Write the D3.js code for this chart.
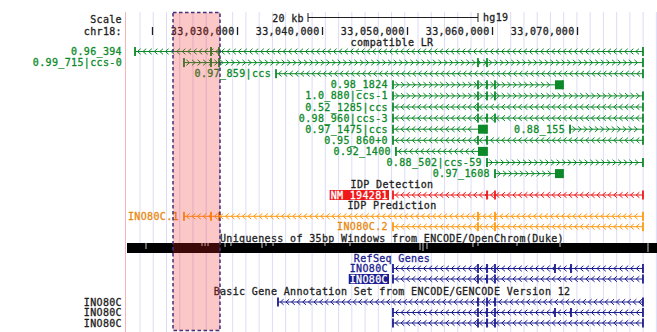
<!DOCTYPE html>
<html><head><meta charset="utf-8">
<script src="https://cdn.jsdelivr.net/npm/d3@7"></script>
<style>
body{margin:0;background:#fff}
svg{display:block}
text{font-family:"DejaVu Sans Mono",monospace;font-size:10px;letter-spacing:0.35px}
</style>
</head><body>
<svg id="c" width="657" height="332"></svg>
<script>
// ---------------- data ----------------
const viewRange = [33016940, 33079410];
const tickValues = [33020000, 33030000, 33040000, 33050000, 33060000, 33070000];
const tickLabels = ["", "33,030,000", "33,040,000", "33,050,000", "33,060,000", "33,070,000"];
const highlightRange = [33022470, 33028000];
const scaleBarStart = 33038350, scaleBarLen = 20000, scaleBarText = "20 kb", assembly = "hg19";
const chromName = "chr18:";

// compatible LR track
const lrNames  = ["0.96_394","0.99_715|ccs-0","0.97_859|ccs","0.98_1824","1.0_880|ccs-1","0.52_1285|ccs","0.98_960|ccs-3","0.97_1475|ccs","0.88_155","0.95_860+0","0.92_1400","0.88_502|ccs-59","0.97_1608"];
const lrRow    = [0,1,2,3,4,5,6,7,7,8,9,10,11];
const lrStrand = ["-","+","-","+","+","-","-","-","+","-","-","+","+"];
const lrStart  = [33018000,33023760,33034590,33048350,33048350,33048350,33048350,33048350,33069180,33048350,33048700,33059410,33060350];
const lrEnd    = [33077760,33077760,33077760,33068350,33077760,33077760,33077760,33059410,33077760,33077760,33059410,33077760,33068350];
const lrExons  = [[33026940,33027880],[33026940,33027880,33058350,33059410],[],[33058350,33059410,33060350],[33058350,33059410,33060350],[33058350],[33058350,33059410,33060350],[],[],[33058350,33059410],[],[],[]];
const lrBoxes  = [[],[],[],[[33067410,33068350]],[],[],[],[[33058350,33059410]],[],[],[[33058350,33059410]],[],[[33067410,33068350]]];
const lrMargin = [true,true,false,false,false,false,false,false,false,false,false,false,false];

// IDP detection
const detName = "NM_194281", detStart = 33048350, detEnd = 33077760, detExons = [33059410, 33060350];

// IDP prediction
const predNames = ["INO80C.1","INO80C.2"];
const predStart = [33023760, 33048350];
const predEnd   = [33077760, 33077760];
const predExons = [[33026940,33027880,33058350,33060350],[33058350,33060350]];

// Uniqueness track: dips (position, value 0..1)
const uniqPos = [33019290,33025880,33026240,33026590,33028590,33029290,33032940,33033410,33034240,33040350,33043290,33051530,33051880,33052350,33057760,33058350,33062940,33068000,33078350];
const uniqVal = [0.4,0.7,0.7,0.7,0.6,0.7,0.5,0.7,0.7,0.7,0.7,0.3,0.2,0.4,0.6,0.7,0.7,0.6,0.1];

// RefSeq
const refNames = ["INO80C","INO80C"];
const refStart = [33048350, 33048350];
const refEnd   = [33077760, 33077760];
const refExons = [[33058350,33059410,33060350,33067410,33069290],[33058350,33059410,33060350]];
const refSelected = [false, true];

// GENCODE
const gcNames = ["INO80C","INO80C","INO80C"];
const gcStart = [33034820, 33048350, 33048350];
const gcEnd   = [33077760, 33077760, 33077760];
const gcExons = [[33058350,33059410,33060350],[33058350,33059410,33060350,33067410,33069290],[33058350,33059410,33060350]];

const titles = ["compatible LR","IDP Detection","IDP Prediction","Uniqueness of 35bp Windows from ENCODE/OpenChrom(Duke)","RefSeq Genes","Basic Gene Annotation Set from ENCODE/GENCODE Version 12"];

// ---------------- drawing ----------------
const svg = d3.select("#c");
const x = d3.scaleLinear().domain(viewRange).range([126, 657]);
const GREEN = "#0c8a2a", RED = "#f01818", ORANGE = "#ff9a10", BLUE = "#1c1c90", DARK = "#1e1e1e";

// guide lines
svg.append("g").selectAll("line").data(d3.range(140, 657, 13.24)).join("line")
  .attr("x1", d => d).attr("x2", d => d).attr("y1", 12).attr("y2", 332)
  .attr("stroke", "#dcdcf8").attr("stroke-width", 1);
svg.append("line").attr("x1", 125.5).attr("x2", 125.5).attr("y1", 12).attr("y2", 332)
  .attr("stroke", "#f5b5b5").attr("stroke-width", 1);

function label(txt, xp, y, anchor, color) {
  return svg.append("text").attr("x", xp).attr("y", y).attr("dy", "0.35em")
    .attr("text-anchor", anchor).attr("fill", color)
    .attr("stroke", color).attr("stroke-width", 0.3).text(txt);
}

function drawTranscript(t) {
  const g = svg.append("g").attr("stroke", t.color).attr("fill", t.color);
  const x0 = x(t.start), x1 = x(t.end), y = t.y;
  g.append("line").attr("x1", x0).attr("x2", x1).attr("y1", y).attr("y2", y).attr("stroke-width", 1);
  const boxes = t.boxes || [];
  const chev = d3.range(x0 + 4, x1 - 2, 5.6).filter(c => !boxes.some(b => c > x(b[0]) - 3 && c < x(b[1]) + 3));
  const s = t.strand === "-" ? 1 : -1;
  g.append("path").attr("fill", "none").attr("stroke-width", 1)
    .attr("d", chev.map(c => `M${c + 1.6 * s},${y - 2.8}L${c - 1.6 * s},${y}L${c + 1.6 * s},${y + 2.8}`).join(""));
  const marks = [t.start, t.end].concat(t.exons || []);
  g.selectAll(null).data(marks).join("rect")
    .attr("x", d => x(d) - 0.9).attr("width", 1.8).attr("y", y - 4.5).attr("height", 9).attr("stroke", "none");
  g.selectAll(null).data(boxes).join("rect")
    .attr("x", d => x(d[0])).attr("width", d => x(d[1]) - x(d[0])).attr("y", y - 4.5).attr("height", 9).attr("stroke", "none");
}

// scale / ruler
label("Scale", 122, 19, "end", DARK);
label(scaleBarText, x(scaleBarStart) - 4, 18, "end", DARK);
const sb = svg.append("g").attr("stroke", DARK).attr("stroke-width", 1);
sb.append("line").attr("x1", x(scaleBarStart)).attr("x2", x(scaleBarStart + scaleBarLen)).attr("y1", 17.5).attr("y2", 17.5);
[scaleBarStart, scaleBarStart + scaleBarLen].forEach(p =>
  sb.append("line").attr("x1", x(p)).attr("x2", x(p)).attr("y1", 13).attr("y2", 22));
label(assembly, x(scaleBarStart + scaleBarLen) + 5, 17.5, "start", DARK);

label(chromName, 122, 31, "end", DARK);
const ax = d3.axisTop(x).tickValues(tickValues).tickSize(0).tickFormat((d, i) => tickLabels[i]);
const axg = svg.append("g").attr("transform", "translate(0,31)").call(ax);
axg.select(".domain").remove();
axg.selectAll(".tick text").attr("text-anchor", "end").attr("x", -3).attr("y", 0).attr("dy", "0.35em")
  .attr("fill", DARK).attr("stroke", DARK).attr("stroke-width", 0.3)
  .style("font-family", '"DejaVu Sans Mono",monospace').style("font-size", "10px");
axg.selectAll(".tick").append("line").attr("y1", -4).attr("y2", 4).attr("stroke", DARK).attr("stroke-width", 1.3);

const TX = 392;
// compatible LR
label(titles[0], TX, 42, "middle", DARK);
const rowY = i => 51.5 + 11.1 * i;
lrNames.forEach((n, i) => {
  const y = rowY(lrRow[i]);
  drawTranscript({ start: lrStart[i], end: lrEnd[i], strand: lrStrand[i], exons: lrExons[i], boxes: lrBoxes[i], y, color: GREEN });
  if (lrMargin[i]) label(n, 122, y, "end", GREEN);
  else label(n, x(lrStart[i]) - 5, y, "end", GREEN);
});

// IDP detection
label(titles[1], TX, 184, "middle", DARK);
drawTranscript({ start: detStart, end: detEnd, strand: "-", exons: detExons, y: 195, color: RED });
{
  const t = label(detName, x(detStart) - 5, 195, "end", "#fff");
  const w = t.node().getComputedTextLength();
  svg.insert("rect", () => t.node()).attr("x", x(detStart) - 6 - w).attr("y", 190).attr("width", w + 2).attr("height", 10).attr("fill", RED);
}

// IDP prediction
label(titles[2], TX, 205.5, "middle", DARK);
predNames.forEach((n, i) => {
  const y = 216.3 + 10.4 * i;
  drawTranscript({ start: predStart[i], end: predEnd[i], strand: "-", exons: predExons[i], y, color: ORANGE });
  label(n, x(predStart[i]) - 5, y, "end", "#e88a10");
});

// uniqueness
label(titles[3], TX, 238, "middle", DARK);
const uy = 243, uh = 10;
svg.append("rect").attr("x", 127).attr("y", uy).attr("width", 657 - 127).attr("height", uh).attr("fill", "#000");
svg.append("g").selectAll("rect").data(uniqPos.map((p, i) => [p, uniqVal[i]])).join("rect")
  .attr("x", d => x(d[0]) - 0.5).attr("width", 1).attr("y", uy).attr("height", d => (1 - d[1]) * uh).attr("fill", "#c8c8c8");

// RefSeq
label(titles[4], TX, 258, "middle", BLUE);
refNames.forEach((n, i) => {
  const y = 268.5 + 10.5 * i;
  drawTranscript({ start: refStart[i], end: refEnd[i], strand: "-", exons: refExons[i], y, color: BLUE });
  const t = label(n, x(refStart[i]) - 5, y, "end", refSelected[i] ? "#fff" : BLUE);
  if (refSelected[i]) {
    const w = t.node().getComputedTextLength();
    svg.insert("rect", () => t.node()).attr("x", x(refStart[i]) - 6 - w).attr("y", y - 5).attr("width", w + 2).attr("height", 10).attr("fill", BLUE);
  }
});

// GENCODE
label(titles[5], TX, 291, "middle", DARK);
gcNames.forEach((n, i) => {
  const y = 302 + 10.5 * i;
  drawTranscript({ start: gcStart[i], end: gcEnd[i], strand: "-", exons: gcExons[i], y, color: BLUE });
  label(n, 122, y, "end", DARK);
});

// highlight overlay
svg.append("rect").attr("x", x(highlightRange[0])).attr("y", 12.5)
  .attr("width", x(highlightRange[1]) - x(highlightRange[0])).attr("height", 318)
  .attr("fill", "rgba(240,30,30,0.25)").attr("stroke", "#43307a").attr("stroke-width", 1.5).attr("stroke-dasharray", "3.5,2.5");
</script>
</body></html>
